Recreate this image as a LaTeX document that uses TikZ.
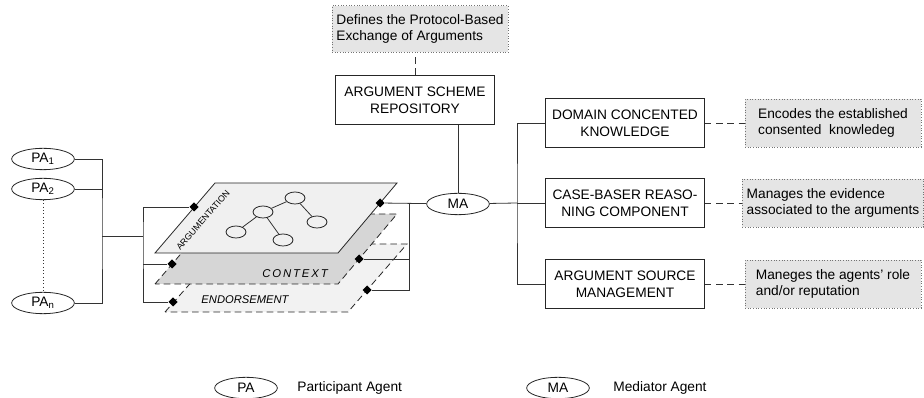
\documentclass[tikz,border=0pt]{standalone}
\usepackage{fontspec}
\setmainfont{Liberation Sans}
\usetikzlibrary{shapes.geometric}

\begin{document}
\begin{tikzpicture}[x=0.75pt,y=-0.75pt,line width=0.6pt]
        \tikzstyle{agent}=[ellipse,draw=black!85,fill=white,minimum width=47pt,minimum height=16pt,inner sep=0pt,font=\fontsize{10.3}{12}\selectfont]
        \tikzstyle{module}=[rectangle,draw=black!85,fill=white,minimum width=119pt,minimum height=37pt,inner sep=1pt,align=center,font=\fontsize{10.3}{12.5}\selectfont]
        \tikzstyle{note}=[rectangle,draw=black!55,dash pattern=on 0.6pt off 1.4pt,fill=black!10,minimum height=36pt,align=left,font=\fontsize{10.3}{12.5}\selectfont]
        \tikzstyle{joint}=[diamond,fill=black,inner sep=0pt,minimum size=7pt]
        \tikzstyle{claim}=[ellipse,draw=black!85,minimum width=15pt,minimum height=9pt,inner sep=0pt]
        \tikzstyle{edge}=[draw,black!80]
        \tikzstyle{link}=[draw,black!80,dash pattern=on 5pt off 3.5pt]
        \tikzstyle{layer}=[draw=black!85,dash pattern=on 5pt off 3pt]
        \tikzstyle{legend}=[font=\fontsize{10.3}{12}\selectfont,anchor=west,inner sep=0pt]
        \useasboundingbox (0,0) rectangle (924,398);

       \begin{scope}
         % layers, bottom one first
         \filldraw [layer,fill=black!5] (165,312) -- (225,244) -- (407,244) -- (348,312) -- cycle;
         \filldraw [layer,fill=black!16] (155,284) -- (215,214) -- (397,214) -- (338,284) -- cycle;
         \filldraw [draw=black!85,fill=black!6] (155,253) -- (215,183) -- (397,183) -- (338,253) -- cycle;
         \node [font=\itshape\fontsize{8.5}{10}\selectfont] (ctxlabel) at (295,274) {C\,O\,N\,T\,E\,X\,T};
         \node [font=\itshape\fontsize{8.4}{10}\selectfont] (endlabel) at (245,300) {ENDORSEMENT};
         \node [font=\fontsize{6.6}{8}\selectfont,rotate=49,inner sep=0pt] (arglabel) at (203,220) {ARGUMENTATION};

         \node [claim] (c1) at (295,198) {};
         \node [claim] (c2) at (263,212) {};
         \node [claim] (c3) at (317,222) {};
         \node [claim] (c4) at (236,232) {};
         \node [claim] (c5) at (283,240) {};
         \path[edge] (c2) edge (c1);
         \path[edge] (c1) edge (c3);
         \path[edge] (c2) edge (c4);
         \path[edge] (c2) edge (c5);

         \node [joint] (dargl) at (194,207) {};
         \node [joint] (dctxl) at (172,264) {};
         \node [joint] (dendl) at (173,302) {};
         \node [joint] (dargr) at (380,203) {};
         \node [joint] (dctxr) at (359,259) {};
         \node [joint] (dendr) at (367,290) {};
       \end{scope}

       \begin{scope}
         \node [agent] (pa1) at (43,159) {PA\textsubscript{1}};
         \node [agent] (pa2) at (43,189) {PA\textsubscript{2}};
         \node [agent] (pan) at (43,303) {PA\textsubscript{n}};
         \node [agent] (ma) at (458,204) {MA};

         \node [module] (asr) at (415,100) {ARGUMENT SCHEME\\REPOSITORY};
         \node [module] (dck) at (625,123) {DOMAIN CONCENTED\\KNOWLEDGE};
         \node [module] (cbr) at (625,203) {CASE-BASER REASO-\\NING COMPONENT};
         \node [module] (asm) at (625,284) {ARGUMENT SOURCE\\MANAGEMENT};

         \node [note,minimum width=119pt,minimum height=35pt] (n0) at (420,29) {Defines the Protocol-Based\\Exchange of Arguments};
         \node [note,minimum width=132pt] (n1) at (833,123) {Encodes the established\\ consented~ knowledeg};
         \node [note,minimum width=132pt] (n2) at (833,203) {Manages the evidence\\associated to the arguments};
         \node [note,minimum width=132pt] (n3) at (833,284) {Maneges the agents' role\\and/or reputation};

         \coordinate (lbus) at (102,236);
         \coordinate (rbus) at (143,236);
         \coordinate (mbus) at (409,203);
         \coordinate (kbus) at (517,203);
       \end{scope}

       % participants to the layers
       \draw[edge,dotted,line width=0.5pt] (pa2) -- (pan);
       \draw[edge] (pa1.east) -| (lbus) |- (pan.east);
       \draw[edge] (pa2.east) -- (pa2.east -| lbus);
       \draw[edge] (lbus) -- (rbus);
       \draw[edge] (dargl) -| (rbus) |- (dendl);
       \draw[edge] (dctxl) -- (dctxl -| rbus);

       % layers to the mediator
       \draw[edge] (dargr) -- (ma);
       \draw[edge] (dctxr) -| (mbus);
       \draw[edge] (dendr) -| (mbus);
       \draw[edge] (ma.north) -- (ma.north |- asr.south);
       \draw[link] (asr.north) -- (asr.north |- n0.south);

       % mediator to its components
       \draw[edge] (ma) -- (kbus);
       \draw[edge] (dck.west) -| (kbus) |- (asm.west);
       \draw[edge] (kbus) -- (cbr.west);
       \draw[link] (dck) -- (n1);
       \draw[link] (cbr) -- (n2);
       \draw[link] (asm) -- (n3);

       % legend
       \node [agent] (pakey) at (246,388) {PA};
       \node [legend] (palabel) at (297,388) {Participant Agent};
       \node [agent] (makey) at (558,388) {MA};
       \node [legend] (malabel) at (613,388) {Mediator Agent};
      \end{tikzpicture}
\end{document}
